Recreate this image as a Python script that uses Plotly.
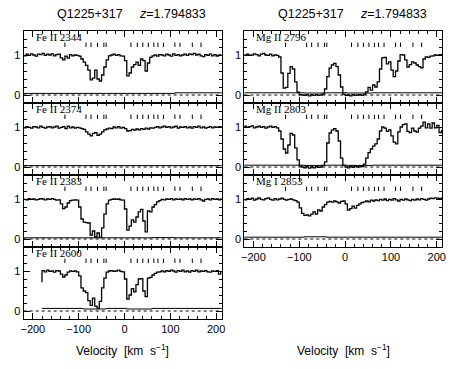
import plotly.graph_objects as go

# ---------------- data ----------------
velocity = [-220, -215, -210, -205, -200, -195, -190, -185, -180, -175, -170, -165, -160, -155, -150, -145,
            -140, -135, -130, -125, -120, -115, -110, -105, -100, -95, -90, -85, -80, -75, -70, -65,
            -60, -55, -50, -45, -40, -35, -30, -25, -20, -15, -10, -5, 0, 5, 10, 15,
            20, 25, 30, 35, 40, 45, 50, 55, 60, 65, 70, 75, 80, 85, 90, 95,
            100, 105, 110, 115, 120, 125, 130, 135, 140, 145, 150, 155, 160, 165, 170, 175,
            180, 185, 190, 195, 200, 205, 210, 215]

fe2344 = [1.00, 0.98, 1.02, 0.99, 1.03, 1.00, 0.97, 1.02, 1.01, 1.04, 0.99, 1.02, 1.00, 1.03, 0.98, 1.01, 1.02,
          0.93, 0.88, 0.97, 0.92, 1.01, 0.98, 1.00, 0.99,
          0.97, 0.90, 0.82, 0.74, 0.62, 0.38, 0.42, 0.62, 0.40, 0.35, 0.50, 0.70, 0.88, 0.98,
          1.00, 1.02, 0.99, 1.01, 0.98, 0.97,
          0.86, 0.48, 0.55, 0.70, 0.76, 0.82, 0.74, 0.90, 0.86, 0.60, 0.80, 0.94, 0.98,
          1.00, 0.97, 1.01, 1.00, 0.98, 1.02, 1.00, 0.97, 1.03, 0.99, 1.01, 0.98, 1.00, 1.02, 0.99,
          1.03, 1.01, 1.04, 1.00, 1.02, 0.98, 0.96, 1.01, 0.99, 1.02, 0.98, 1.01, 0.97, 1.00, 0.99]

fe2374 = [1.00, 0.98, 1.01, 0.99, 0.97, 1.01, 1.00, 0.98, 1.02, 0.99, 0.97, 1.00, 1.01, 0.98, 1.00, 1.02,
          0.97, 0.99, 1.01, 0.96, 1.02, 0.98, 1.00, 0.97, 0.99,
          0.98, 0.96, 0.94, 0.88, 0.82, 0.78, 0.84, 0.86, 0.79, 0.82, 0.88, 0.93, 0.95, 0.97,
          0.96, 1.00, 0.98, 1.01, 0.97, 0.99,
          0.96, 0.90, 0.91, 0.94, 0.92, 0.95, 0.93, 0.96, 0.94, 0.97, 0.95, 0.98, 0.97,
          0.99, 1.01, 0.98, 1.00, 1.02, 0.99, 1.01, 0.98, 1.00, 1.02, 0.97, 1.00, 0.99, 1.01, 0.98,
          1.00, 0.97, 1.01, 0.99, 1.02, 0.98, 1.00, 0.97, 0.99, 1.01, 0.98, 1.00, 0.99, 1.01, 1.00]

fe2383 = [1.00, 0.99, 0.98, 1.01, 0.99, 1.00, 0.98, 0.99, 1.01, 1.00, 0.98, 1.00, 0.99, 1.01, 0.99, 0.97, 0.98,
          0.88, 0.76, 0.80, 0.90, 0.96, 0.97, 0.98, 0.97,
          0.80, 0.50, 0.42, 0.41, 0.40, 0.10, 0.20, 0.05, 0.15, 0.04, 0.28, 0.62, 0.88, 0.97,
          0.99, 1.00, 0.99, 1.00, 0.98, 0.97,
          0.75, 0.22, 0.32, 0.48, 0.42, 0.55, 0.68, 0.74, 0.45, 0.18, 0.70, 0.68, 0.80,
          0.86, 0.93, 0.96, 0.99, 0.98, 1.00, 0.99, 1.01, 0.98, 1.00, 0.99, 1.00, 0.98, 1.01, 0.99,
          1.00, 0.98, 1.00, 0.99, 1.01, 0.98, 0.95, 0.99, 1.00, 0.98, 1.01, 0.99, 1.00, 0.98, 1.00]

fe2600 = [None, None, None, None, None, None, None, None,
          0.72, 1.01, 0.98, 1.02, 0.99, 1.00, 0.97, 1.01, 1.00,
          0.92, 0.85, 0.90, 0.97, 1.00, 0.99, 1.00, 0.98,
          0.88, 0.58, 0.50, 0.46, 0.26, 0.14, 0.32, 0.12, 0.07, 0.24, 0.58, 0.82, 0.97, 1.00,
          1.01, 0.99, 1.00, 1.02, 0.99, 0.98,
          0.80, 0.30, 0.40, 0.56, 0.48, 0.66, 0.80, 0.81, 0.50, 0.36, 0.82, 0.84, 0.90,
          0.94, 0.97, 0.98, 1.00, 0.98, 1.01, 0.99, 1.02, 1.00, 0.97, 1.01, 0.99, 1.02, 0.98, 1.00,
          0.97, 1.01, 0.99, 1.02, 0.98, 1.00, 0.99, 1.01, 0.98, 0.97, 1.00, 0.99, 1.01, 0.92, 0.98]

mg2796 = [1.01, 1.00, 1.02, 0.99, 1.00, 1.03, 1.01, 0.98, 1.02, 1.04, 1.00, 0.99, 1.02, 0.98, 1.00, 0.99,
          0.95, 0.55, 0.17, 0.19, 0.54, 0.71, 0.65, 0.33, 0.07, 0.01,
          0.00, -0.01, 0.01, -0.02, 0.00, -0.01, 0.01, -0.01, 0.00, 0.02,
          0.15, 0.46, 0.67, 0.75, 0.79, 0.71, 0.50, 0.20, 0.02,
          -0.01, 0.00, -0.02, 0.01, -0.01, 0.00, 0.01, -0.01, 0.02,
          0.08, 0.19, 0.12, 0.25, 0.20, 0.33, 0.65, 0.93, 0.94, 0.78, 0.83, 0.62, 0.46, 0.60, 0.85, 1.01,
          1.00, 0.88, 0.70, 0.76, 0.83, 0.80, 0.75, 0.71, 0.68, 0.90, 0.95, 0.94, 0.97, 0.98, 1.00, 0.99,
          1.01, 1.00]

mg2803 = [1.00, 1.02, 0.99, 1.01, 1.03, 0.98, 1.00, 1.02, 0.99, 1.01, 0.97, 1.00, 1.02, 0.99, 1.01, 0.98,
          0.90, 0.70, 0.45, 0.35, 0.55, 0.84, 0.80, 0.48, 0.18, 0.03,
          0.00, -0.02, 0.01, -0.03, 0.00, -0.02, 0.01, -0.01, 0.00, 0.04,
          0.13, 0.60, 0.85, 0.92, 0.96, 0.90, 0.65, 0.22, 0.04,
          0.00, -0.02, 0.01, -0.01, 0.02, 0.00, 0.03, 0.01, 0.07,
          0.22, 0.36, 0.45, 0.52, 0.58, 0.70, 0.90, 1.00, 0.97, 0.89, 0.93, 0.78, 0.62, 0.58, 0.88, 1.00,
          1.06, 1.08, 0.89, 0.86, 0.97, 0.90, 0.87, 0.97, 1.02, 1.12, 0.98, 1.08, 0.97, 1.10, 0.98, 1.04,
          0.86, 0.90]

mg2853 = [1.00, 0.98, 1.01, 0.99, 1.02, 0.97, 1.00, 1.03, 0.99, 0.98, 1.01, 1.03, 0.99, 0.97, 1.01, 0.98,
          1.00, 1.02, 0.99, 0.97, 0.99, 1.00, 0.98,
          0.96, 0.92, 0.78, 0.64, 0.59, 0.60, 0.58, 0.62, 0.68, 0.62, 0.73, 0.70, 0.80, 0.86, 0.92, 0.94,
          0.92, 0.95, 0.93, 0.90, 0.94, 0.95,
          0.88, 0.72, 0.76, 0.82, 0.77, 0.84, 0.88, 0.91, 0.93, 0.95, 0.93, 0.97,
          0.95, 0.98, 0.96, 0.99, 0.97, 1.00, 0.96, 0.99, 0.97, 1.01, 0.98, 0.95, 0.99, 0.97, 1.00, 0.98,
          0.96, 0.99, 0.97, 1.00, 0.98, 1.01, 0.99, 0.97, 1.00, 1.02, 1.01, 1.03, 1.02, 1.01, 1.02]

# error spectra (step values on a coarse grid)
err_velocity = [-220, -180, -90, -40, 5, 60, 110, 215]
err2344 = [0.04, 0.04, 0.04, 0.04, 0.04, 0.04, 0.055, 0.06]
err2374 = [0.035, 0.035, 0.035, 0.035, 0.035, 0.035, 0.035, 0.035]
err2383 = [0.03, 0.03, 0.03, 0.03, 0.03, 0.035, 0.03, 0.03]
err2600 = [None, 0.065, 0.05, 0.065, 0.05, 0.065, 0.065, 0.065]
err2796 = [0.055, 0.055, 0.05, 0.055, 0.05, 0.055, 0.055, 0.055]
err2803 = [0.045, 0.045, 0.04, 0.045, 0.04, 0.045, 0.045, 0.045]
err2853 = [0.045, 0.045, 0.055, 0.045, 0.045, 0.045, 0.045, 0.045]

# fitted cloud components (km/s)
components = [-130, -84, -73, -59, -45, -40, 14, 28, 40, 52, 64, 73, 85, 110, 121, 148, 167]

title_text = "Q1225+317&nbsp;&nbsp;&nbsp;&nbsp;&nbsp;<i>z</i>=1.794833"
x_title = "Velocity&nbsp;&nbsp;[km&nbsp;&nbsp;s<sup>−1</sup>]"

panels = [
    ("Fe II 2344", fe2344, err2344, 0, 0),
    ("Fe II 2374", fe2374, err2374, 0, 1),
    ("Fe II 2383", fe2383, err2383, 0, 2),
    ("Fe II 2600", fe2600, err2600, 0, 3),
    ("Mg II 2796", mg2796, err2796, 1, 0),
    ("Mg II 2803", mg2803, err2803, 1, 1),
    ("Mg I 2853", mg2853, err2853, 1, 2),
]

# ---------------- layout geometry ----------------
W, H = 463, 369
col_px = [(21, 222), (245, 446)]
title_left_px = [53, 277]
top0, ph = 31, 72
xrange_ = [-220, 212]
yrange_ = [-0.2, 1.6]

fig = go.Figure()
layout = dict(
    width=W, height=H, margin=dict(l=0, r=0, t=0, b=0),
    paper_bgcolor="white", plot_bgcolor="white", showlegend=False,
    font=dict(family="Liberation Sans, Arial, sans-serif", size=10, color="black"),
)
annotations = []
shapes = []

tick_x, tick_y = [], []
for c in components:
    tick_x += [c, c, None]
    tick_y += [1.2, 1.31, None]

bottom_rows = {0: 3, 1: 2}

for k, (label, flux, err, col, row) in enumerate(panels, start=1):
    xa = "x" if k == 1 else f"x{k}"
    ya = "y" if k == 1 else f"y{k}"
    xk = "xaxis" if k == 1 else f"xaxis{k}"
    yk = "yaxis" if k == 1 else f"yaxis{k}"
    x0, x1 = col_px[col]
    top = top0 + ph * row
    bot = top + ph
    is_bottom = row == bottom_rows[col]
    layout[xk] = dict(
        domain=[x0 / W, x1 / W], range=xrange_, anchor=ya,
        showline=True, linecolor="black", linewidth=1, mirror="allticks",
        ticks="inside", ticklen=6, tickwidth=1, tickcolor="black",
        dtick=100, tick0=0, showgrid=False, zeroline=False,
        showticklabels=is_bottom, tickfont=dict(size=11),
        minor=dict(dtick=20, tick0=0, ticks="inside", ticklen=3, tickcolor="black", showgrid=False),
    )
    layout[yk] = dict(
        domain=[1 - bot / H, 1 - top / H], range=yrange_, anchor=xa,
        showline=True, linecolor="black", linewidth=1, mirror="allticks",
        ticks="inside", ticklen=6, tickwidth=1, tickcolor="black",
        tickvals=[0, 1], showgrid=False, zeroline=False, tickfont=dict(size=11),
        minor=dict(dtick=0.2, tick0=0, ticks="inside", ticklen=3, tickcolor="black", showgrid=False),
    )
    # zero level (dotted)
    shapes.append(dict(type="line", xref="paper", yref=ya, x0=x0 / W, x1=x1 / W, y0=0, y1=0,
                       line=dict(color="black", width=1, dash="dot")))
    # error spectrum
    fig.add_trace(go.Scatter(x=err_velocity, y=err, xaxis=xa, yaxis=ya, mode="lines",
                             line=dict(color="black", width=1, shape="hv"), hoverinfo="skip"))
    # data
    fig.add_trace(go.Scatter(x=velocity, y=flux, xaxis=xa, yaxis=ya, mode="lines",
                             line=dict(color="black", width=1.3, shape="vh"), connectgaps=False))
    # component ticks
    fig.add_trace(go.Scatter(x=tick_x, y=tick_y, xaxis=xa, yaxis=ya, mode="lines",
                             line=dict(color="black", width=1), hoverinfo="skip"))
    # panel label
    annotations.append(dict(text=label, xref="paper", yref="paper",
                            x=(x0 + 10) / W, y=1 - (top + 6) / H, xanchor="left", yanchor="middle",
                            showarrow=False,
                            font=dict(family="Liberation Serif, Times New Roman, serif", size=11, color="black")))

for col in (0, 1):
    x0, x1 = col_px[col]
    cx = (x0 + x1) / 2 / W
    annotations.append(dict(text=title_text, xref="paper", yref="paper", x=title_left_px[col] / W,
                            y=1 - 14 / H, xanchor="left", yanchor="middle", showarrow=False,
                            font=dict(size=12.5)))
    annotations.append(dict(text=x_title, xref="paper", yref="paper", x=cx, y=1 - 350 / H,
                            xanchor="center", yanchor="middle", showarrow=False,
                            font=dict(size=12)))

layout["annotations"] = annotations
layout["shapes"] = shapes
fig.update_layout(**layout)
fig.write_html("out.html", config={"displayModeBar": False},
               post_script="document.body.style.margin='0px';document.body.style.padding='0px';")
